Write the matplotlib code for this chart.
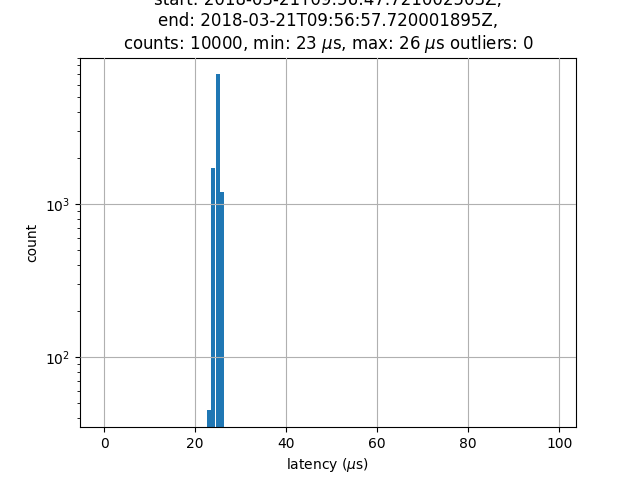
import matplotlib

matplotlib.use("Agg")

import matplotlib.pyplot as plt

latency = [23, 24, 25, 26]
counts = [45, 1720, 7070, 1200]

title = ("start: 2018-03-21T09:56:47.721002503Z,\n"
         "end: 2018-03-21T09:56:57.720001895Z,\n"
         "counts: 10000, min: 23 $\\mu$s, max: 26 $\\mu$s outliers: 0")

fig, ax = plt.subplots(figsize=(6.4, 4.8), dpi=100)

ax.bar(latency, counts, width=0.9, color="#1f77b4")
ax.set_yscale("log")
ax.set_xlim(-5.3, 103.7)
ax.set_ylim(35, 9000)
ax.grid(True)
ax.set_axisbelow(False)

ax.set_title(title)
ax.set_xlabel("latency ($\\mu$s)")
ax.set_ylabel("count")

fig.savefig("out.png")
plt.close(fig)
